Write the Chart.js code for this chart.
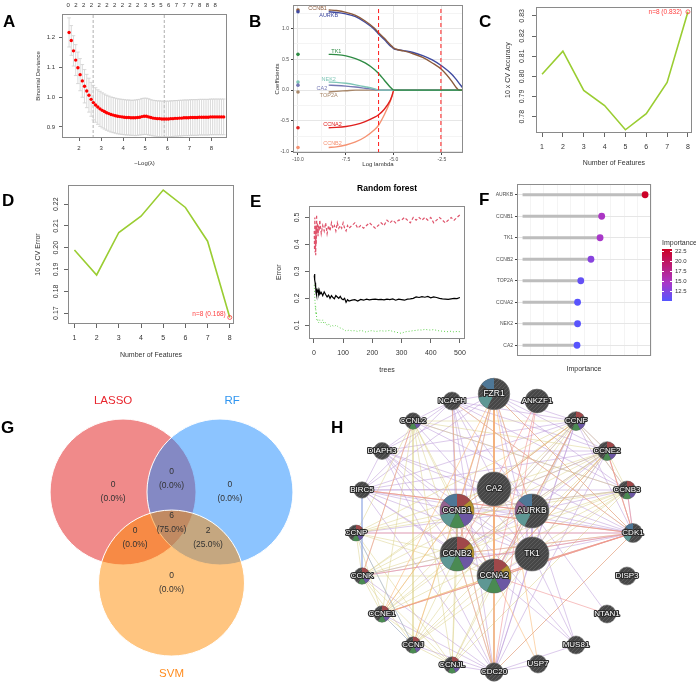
<!DOCTYPE html>
<html>
<head>
<meta charset="utf-8">
<title>Feature selection figure</title>
<script src="https://cdn.jsdelivr.net/npm/chart.js@4.4.1/dist/chart.umd.min.js"></script>
<style>
  body { margin: 0; background: #fff; }
  #fig { position: relative; width: 696px; height: 683px; overflow: hidden;
         font-family: "Liberation Sans", Arial, sans-serif; }
  #fig canvas { position: absolute; }
  .tag { position: absolute; font: bold 17px/17px "Liberation Sans", Arial, sans-serif; color: #000; }
  .leg { position: absolute; font-size: 6px; line-height: 6px; color: #333; white-space: nowrap; }
</style>
</head>
<body>
<div id="fig">
  <canvas id="cA" width="232" height="175" style="left:0;top:0"></canvas>
  <canvas id="cB" width="232" height="175" style="left:232px;top:0"></canvas>
  <canvas id="cC" width="232" height="175" style="left:464px;top:0"></canvas>
  <canvas id="cD" width="238" height="190" style="left:0;top:175px"></canvas>
  <canvas id="cE" width="234" height="210" style="left:238px;top:175px"></canvas>
  <canvas id="cF" width="224" height="210" style="left:472px;top:175px"></canvas>
  <canvas id="cG" width="345" height="298" style="left:0;top:385px"></canvas>
  <canvas id="cH" width="351" height="313" style="left:345px;top:370px"></canvas>
  <div id="fLegend"></div>
  <div class="tag" style="left:3px;top:13px">A</div>
  <div class="tag" style="left:249px;top:13px">B</div>
  <div class="tag" style="left:479px;top:13px">C</div>
  <div class="tag" style="left:2px;top:192px">D</div>
  <div class="tag" style="left:250px;top:193px">E</div>
  <div class="tag" style="left:479px;top:191px">F</div>
  <div class="tag" style="left:1px;top:419px">G</div>
  <div class="tag" style="left:331px;top:419px">H</div>
</div>

<script>
/* DATA - A: LASSO cross validation */
const aLogLam = [
  1.55,1.65,1.75,1.85,1.95,2.05,2.15,2.25,2.35,2.45,
  2.55,2.65,2.75,2.85,2.95,3.05,3.15,3.25,3.35,3.45,
  3.55,3.65,3.75,3.85,3.95,4.05,4.15,4.25,4.35,4.45,
  4.55,4.65,4.75,4.85,4.95,5.05,5.15,5.25,5.35,5.45,
  5.55,5.65,5.75,5.85,5.95,6.05,6.15,6.25,6.35,6.45,
  6.55,6.65,6.75,6.85,6.95,7.05,7.15,7.25,7.35,7.45,
  7.55,7.65,7.75,7.85,7.95,8.05,8.15,8.25,8.35,8.45,
  8.55];
const aDev = [
  1.218,1.191,1.156,1.125,1.099,1.076,1.055,1.037,1.021,1.007,
  0.993,0.982,0.974,0.967,0.961,0.956,0.952,0.948,0.945,0.942,
  0.940,0.938,0.936,0.935,0.934,0.933,0.932,0.932,0.931,0.931,
  0.931,0.932,0.933,0.935,0.936,0.936,0.934,0.932,0.930,0.929,
  0.928,0.928,0.927,0.927,0.927,0.927,0.928,0.928,0.929,0.929,
  0.930,0.930,0.931,0.931,0.931,0.932,0.932,0.932,0.932,0.933,
  0.933,0.933,0.933,0.933,0.934,0.934,0.934,0.934,0.934,0.934,
  0.934];
const aSE = [
  0.049,0.050,0.051,0.052,0.053,0.054,0.055,0.056,0.056,0.057,
  0.057,0.058,0.058,0.058,0.059,0.059,0.059,0.059,0.059,0.059,
  0.059,0.059,0.059,0.059,0.059,0.059,0.059,0.059,0.059,0.059,
  0.060,0.060,0.060,0.061,0.061,0.061,0.061,0.060,0.060,0.060,
  0.060,0.060,0.060,0.060,0.060,0.060,0.060,0.060,0.060,0.060,
  0.060,0.060,0.060,0.060,0.060,0.060,0.060,0.060,0.060,0.060,
  0.060,0.060,0.060,0.060,0.060,0.060,0.060,0.060,0.060,0.060,
  0.060];
const aTopPos = [1.51,1.86,2.21,2.56,2.91,3.26,3.61,3.96,4.31,4.66,
                 5.01,5.36,5.71,6.06,6.41,6.76,7.11,7.46,7.81,8.16];
const aTopCount = ['0','2','2','2','2','2','2','2','2','2',
                   '3','5','5','6','7','7','7','8','8','8'];
const aLam1se = 2.64, aLamMin = 5.86;

/* DATA - B: coefficient paths */
const bGenes = ['CCNB1','AURKB','TK1','NEK2','CA2','TOP2A','CCNA2','CCNB2'];
const bLam = [-8.4,-8,-7.5,-7,-6.5,-6,-5.8,-5.5,-5.2,-5.1,-5.0,-4.8,-4.5,-4,-3.5,-3,-2.5,-2,-1.8,-1.6,-1.4];
const bCCNB1 = [1.30,1.29,1.26,1.21,1.12,1.00,0.93,0.84,0.74,0.71,0.68,0.655,0.635,0.59,0.53,0.44,0.33,0.15,0.06,0,0];
const bAURKB = [1.27,1.26,1.235,1.19,1.10,0.98,0.91,0.82,0.72,0.695,0.67,0.655,0.64,0.61,0.56,0.49,0.39,0.26,0.19,0.11,0.03];
const bTK1   = [0.58,0.575,0.555,0.51,0.44,0.33,0.27,0.16,0.05,0.02,0,0,0,0,0,0,0,0,0,0,0];
const bNEK2  = [0.13,0.125,0.11,0.085,0.055,0.02,0,0,0,0,0,0,0,0,0,0,0,0,0,0,0];
const bCA2   = [0.08,0.075,0.065,0.05,0.03,0.01,0,0,0,0,0,0,0,0,0,0,0,0,0,0,0];
const bTOP2A = [-0.03,-0.02,-0.01,0,0,0,0,0,0,0,0,0,0,0,0,0,0,0,0,0,0];
const bCCNA2 = [-0.61,-0.605,-0.59,-0.56,-0.51,-0.44,-0.40,-0.31,-0.17,-0.09,0,0,0,0,0,0,0,0,0,0,0];
const bCCNB2 = [-0.93,-0.92,-0.89,-0.84,-0.76,-0.64,-0.57,-0.40,-0.19,-0.10,0,0,0,0,0,0,0,0,0,0,0];
const bLamMin = -5.8, bLam1se = -2.55, bDotLam = -10;

/* DATA - C / D: SVM-RFE */
const cFeat = [1,2,3,4,5,6,7,8];
const cAcc = [0.801,0.8125,0.793,0.7855,0.7735,0.7815,0.797,0.832];
const dErr = [0.199,0.1875,0.207,0.2145,0.2265,0.2185,0.203,0.168];

/* DATA - E: random forest error */
const eTrees = [
  1,2,3,4,5,6,7,8,9,10,
  12,14,16,18,20,25,30,35,40,45,
  50,55,60,65,70,75,80,85,90,95,
  100,105,110,115,120,130,140,150,160,170,
  180,190,200,210,220,230,240,250,260,270,
  280,290,300,310,320,330,340,350,360,370,
  380,390,400,410,420,430,440,450,460,470,
  480,490,500];
const eOOB = [
  0.285,0.290,0.268,0.258,0.240,0.252,0.222,0.236,0.212,0.230,
  0.225,0.232,0.218,0.228,0.215,0.222,0.210,0.224,0.214,0.205,
  0.212,0.200,0.210,0.203,0.198,0.210,0.205,0.200,0.207,0.198,
  0.195,0.200,0.185,0.195,0.190,0.193,0.195,0.190,0.196,0.193,
  0.197,0.194,0.196,0.197,0.195,0.196,0.194,0.197,0.195,0.198,
  0.193,0.197,0.195,0.193,0.197,0.198,0.200,0.205,0.203,0.206,
  0.204,0.207,0.202,0.205,0.203,0.200,0.198,0.197,0.196,0.198,
  0.200,0.199,0.203];
const eErrA = [
  0.450,0.380,0.500,0.370,0.420,0.360,0.470,0.400,0.510,0.440,
  0.480,0.430,0.470,0.450,0.490,0.440,0.470,0.450,0.480,0.440,
  0.470,0.450,0.480,0.460,0.470,0.450,0.480,0.460,0.470,0.460,
  0.480,0.460,0.450,0.470,0.460,0.470,0.480,0.460,0.470,0.460,
  0.470,0.480,0.470,0.460,0.470,0.480,0.470,0.490,0.480,0.490,
  0.480,0.490,0.490,0.500,0.490,0.480,0.500,0.490,0.500,0.490,
  0.500,0.490,0.500,0.480,0.490,0.500,0.490,0.480,0.490,0.500,
  0.490,0.500,0.510];
const eErrB = [
  0.250,0.220,0.200,0.180,0.160,0.170,0.140,0.150,0.130,0.120,
  0.115,0.120,0.110,0.115,0.120,0.110,0.120,0.105,0.110,0.100,
  0.105,0.095,0.100,0.098,0.095,0.100,0.097,0.092,0.090,0.088,
  0.085,0.083,0.078,0.080,0.082,0.079,0.080,0.077,0.081,0.078,
  0.074,0.079,0.080,0.077,0.078,0.080,0.078,0.079,0.081,0.077,
  0.075,0.072,0.070,0.075,0.077,0.078,0.080,0.081,0.083,0.082,
  0.085,0.083,0.082,0.084,0.081,0.079,0.078,0.077,0.076,0.078,
  0.075,0.077,0.076];

/* DATA - F: importance */
const fGenes = ['AURKB','CCNB1','TK1','CCNB2','TOP2A','CCNA2','NEK2','CA2'];
const fImp = [22.8,14.7,14.4,12.7,10.8,10.2,10.2,10.1];
const fLegendTicks = [22.5,20.0,17.5,15.0,12.5];
const fLegMin = 10, fLegMax = 23;

/* DATA - G: Venn */
const gSets = ['LASSO','RF','SVM'];
const gCx = [-0.664, 0.664, 0];
const gCy = [0, 0, -1.247];
const gCounts = [0, 0, 0, 0, 0, 2, 6];  // L only, RF only, SVM only, L&RF, L&SVM, RF&SVM, all
const gCountX = [-0.80, 0.80, 0, 0, -0.50, 0.50, 0];
const gCountY = [0, 0, -1.247, 0.178, -0.623, -0.623, -0.425];
const gNameX = [-0.80, 0.83, 0];
const gNameY = [1.247, 1.247, -2.493];

/* DATA - H: GeneMANIA network */
const hNodes = ['NCAPH','FZR1','ANKZF1','CCNL2','CCNF','DIAPH3','CCNE2','BIRC5','CA2','CCNB3',
                'CCNB1','AURKB','CCNP','CDK1','CCNB2','TK1','CCNK','CCNA2','DISP3','CCNE1',
                'NTAN1','CCNJ','MUS81','CCNJL','USP7','CDC20'];
const hX = [107,149,192,68,231,37,262,17,149,282,112,187,11,288,112,187,17,149,282,37,262,68,231,107,193,149];
const hY = [31,24,31,51,51,81,81,120,119,120,141,141,163,163,184,184,206,206,206,244,244,275,275,295,294,302];
const hScore = [0.53,0.93,0.70,0.48,0.55,0.50,0.55,0.48,1,0.53,1,1,0.47,0.56,1,1,0.48,1,0.53,0.48,
                0.53,0.48,0.53,0.48,0.53,0.54];
const hFuncOf = {   // 0 red,1 gold,2 purple,3 green,4 teal,5 mauve,6 blue
  CCNB1:[0,1,2,3,4,5,6], AURKB:[4,5,6], CCNB2:[0,1,2,3,4], CCNA2:[0,1,2,3,4],
  FZR1:[4,6], CDK1:[4,6], CCNF:[0,2,3], CCNE2:[0,2,3], CCNB3:[0,2,3], CCNP:[0,2,3],
  CCNK:[0,2,3], CCNE1:[0,2,3], CCNJ:[0,2,3], CCNJL:[0,2,3], CCNL2:[2,3]
};
const hCoexp = {
  BIRC5:['CCNB1','CCNB2','CCNA2','AURKB','TK1','CDK1','CDC20','NCAPH','FZR1','CCNF','CCNE2','CCNB3','DIAPH3','CA2'],
  CDK1:['CCNB1','CCNB2','CCNA2','AURKB','TK1','CDC20','NCAPH','FZR1','CCNF','CCNE2','CCNB3','DIAPH3','CCNE1','CCNP','CCNK','CCNL2'],
  CDC20:['CCNB1','CCNB2','CCNA2','AURKB','TK1','NCAPH','FZR1','CCNF','CCNE2','DIAPH3','CCNJ','CCNJL','MUS81','USP7','CCNE1','CCNK'],
  NCAPH:['CCNB1','CCNB2','CCNA2','AURKB','TK1','FZR1','CCNF','CCNE2','DIAPH3','CCNB3','CCNL2'],
  FZR1:['CCNB1','CCNB2','CCNA2','AURKB','TK1','CCNF','DIAPH3','CCNE2','CCNB3'],
  CCNB1:['AURKB','CCNB2','CCNA2','TK1','CCNF','DIAPH3','CCNE2','CCNB3','MUS81'],
  AURKB:['CCNB2','CCNA2','TK1','CCNF','DIAPH3','CCNE2','CCNB3','NTAN1','MUS81','CCNP'],
  CCNB2:['CCNA2','TK1','CCNF','DIAPH3','CCNE2','CCNK'],
  CCNA2:['TK1','CCNF','DIAPH3','CCNE2','MUS81'],
  TK1:['CCNF','DIAPH3','CCNE2','MUS81','CCNL2'],
  DIAPH3:['CCNE2','CCNF'], CCNF:['CCNE2','CCNB3'], CCNL2:['CCNB3']
};
const hDomainGroup = ['CCNL2','CCNF','CCNE2','CCNB3','CCNP','CCNK','CCNE1','CCNJ','CCNJL','CCNB1','CCNB2','CCNA2'];
const hPathway = {
  FZR1:['CCNB1','CCNA2','CCNB2','CDC20','CDK1','AURKB','USP7','CCNE1','CCNJ'],
  CDC20:['CCNB1','CCNA2','CCNB2','CDK1'],
  CDK1:['CCNB1','CCNA2','CCNB2','CCNE1','CCNE2'],
  CCNA2:['USP7','CCNE1','CCNE2'], CCNB1:['CCNF','CCNE1'], BIRC5:['AURKB'], NCAPH:['CDK1','CCNB1']
};
const hPhysical = {
  ANKZF1:['CCNA2','CDC20','CCNB2'], CCNA2:['NTAN1','CDK1','CCNF','CCNB1'],
  CDK1:['CCNB1','CCNE1','CCNB3','CCNK','CCNP'], AURKB:['BIRC5'], CCNE2:['CDK1'], CCNL2:['CCNK']
};
const hOther = { CCNE1:['CCNJ'], CCNP:['CCNJ'], BIRC5:['CCNK'] };


/* COMMON SETTINGS */
const FF = "'Liberation Sans', Arial, sans-serif";
const fnt = (size, weight) => (weight || '') + ' ' + size + 'px ' + FF;
Chart.defaults.font.family = FF;
Chart.defaults.color = '#333';
Chart.defaults.animation = false;
Chart.defaults.responsive = false;
Chart.defaults.events = [];
Chart.defaults.layout.autoPadding = false;
Chart.defaults.plugins.legend.display = false;
Chart.defaults.plugins.tooltip.enabled = false;

const fit = n => s => { if (s.isHorizontal()) s.height = n; else s.width = n; };
const xy = (xs, ys) => xs.map((x, i) => ({x, y: ys[i]}));

// box around the plotting region
const framePlugin = {
  id: 'frame',
  defaults: {color: null},
  afterDraw(chart, args, opts) {
    if (!opts.color) return;
    const {ctx, chartArea: a} = chart;
    ctx.save();
    ctx.strokeStyle = opts.color;
    ctx.lineWidth = 1;
    ctx.strokeRect(Math.round(a.left) + 0.5, Math.round(a.top) + 0.5,
                   Math.round(a.right - a.left) - 1, Math.round(a.bottom - a.top) - 1);
    ctx.restore();
  }
};
Chart.register(framePlugin);

// text placed in data units
function textLayer(items) {
  return {
    id: 'textLayer',
    afterDraw(chart) {
      const {ctx, scales} = chart;
      ctx.save();
      ctx.textBaseline = 'middle';
      items.forEach(t => {
        ctx.font = t.font;
        ctx.textAlign = t.align || 'center';
        const px = scales.x.getPixelForValue(t.x) + (t.dx || 0);
        const py = scales.y.getPixelForValue(t.y) + (t.dy || 0);
        if (t.stroke) {
          ctx.lineJoin = 'round';
          ctx.strokeStyle = t.stroke;
          ctx.lineWidth = t.strokeWidth || 2;
          ctx.strokeText(t.text, px, py);
        }
        ctx.fillStyle = t.color;
        ctx.fillText(t.text, px, py);
      });
      ctx.restore();
    }
  };
}

// R style vertical y tick labels
function rotatedYTicks(xPos, size) {
  return {
    id: 'rotY',
    afterDraw(chart) {
      const s = chart.scales.y, ctx = chart.ctx;
      ctx.save();
      ctx.font = fnt(size);
      ctx.fillStyle = '#333';
      ctx.textAlign = 'center';
      ctx.textBaseline = 'middle';
      s.ticks.forEach(t => {
        ctx.save();
        ctx.translate(xPos, s.getPixelForValue(t.value));
        ctx.rotate(-Math.PI / 2);
        ctx.fillText(t.label, 0, 0);
        ctx.restore();
      });
      ctx.restore();
    }
  };
}


/* PANEL A */
function drawA() {
  const stems = [], caps = [];
  aLogLam.forEach((x, i) => {
    stems.push({x, y: aDev[i] - aSE[i]}, {x, y: aDev[i] + aSE[i]}, {x: null, y: null});
    caps.push({x, y: aDev[i] - aSE[i]}, {x, y: aDev[i] + aSE[i]});
  });
  const yMin = 0.863, yMax = 1.28;
  const vline = x => ({data: [{x, y: yMin}, {x, y: yMax}], showLine: true, pointRadius: 0,
                       borderColor: '#9a9a9a', borderWidth: 0.8, borderDash: [3, 2]});
  new Chart('cA', {
    type: 'scatter',
    data: {datasets: [
      {data: xy(aLogLam, aDev), pointRadius: 1.7, pointBackgroundColor: '#ff0000', pointBorderWidth: 0},
      {data: stems, showLine: true, pointRadius: 0, borderColor: '#cfcfcf', borderWidth: 0.8},
      {data: caps, pointStyle: 'line', pointRadius: 1.8, pointBorderColor: '#cfcfcf', pointBorderWidth: 0.8},
      vline(aLam1se), vline(aLamMin)
    ]},
    options: {
      layout: {padding: {right: 5}},
      plugins: {frame: {color: '#8a8a8a'}},
      scales: {
        x: {type: 'linear', min: 1.23, max: 8.7,
            ticks: {stepSize: 1, includeBounds: false, font: {size: 6}, padding: 4, maxRotation: 0},
            grid: {drawOnChartArea: false, tickLength: 3, color: '#666'}, border: {display: false},
            title: {display: true, text: '−Log(λ)', font: {size: 6}, padding: {top: 0, bottom: 8.4}},
            afterFit: fit(37)},
        x2: {type: 'linear', position: 'top', min: 1.23, max: 8.7,
             afterBuildTicks: s => { s.ticks = aTopPos.map(v => ({value: v})); },
             ticks: {font: {size: 6}, padding: 5.5, autoSkip: false, maxRotation: 0,
                     callback: (v, i) => aTopCount[i]},
             grid: {display: false, drawTicks: false}, border: {display: false},
             afterFit: fit(14)},
        y: {min: yMin, max: yMax,
            ticks: {stepSize: 0.1, includeBounds: false, font: {size: 6}, padding: 4,
                    callback: v => v.toFixed(1)},
            grid: {drawOnChartArea: false, tickLength: 3, color: '#666'}, border: {display: false},
            title: {display: true, text: 'Binomial Deviance', font: {size: 6}, padding: {top: 34.4}},
            afterFit: fit(62)}
      }
    }
  });
}


/* PANEL B */
function drawB() {
  const coefs = [bCCNB1, bAURKB, bTK1, bNEK2, bCA2, bTOP2A, bCCNA2, bCCNB2];
  const colors = ['#8B5A3C', '#3F4AA0', '#2E8B44', '#7FC6B6', '#7478B4', '#A8876A', '#E0201E', '#F59272'];
  const labX = [-8.98, -8.4, -8.0, -8.4, -8.75, -8.4, -8.2, -8.2];
  const labY = [1.32, 1.21, 0.63, 0.17, 0.02, -0.08, -0.55, -0.86];
  const drawOrder = [2, 0, 1, 3, 4, 5, 6, 7];
  const yMin = -1.02, yMax = 1.38;
  const paths = drawOrder.map(i => ({
    data: xy(bLam, coefs[i]), showLine: true, pointRadius: 0, borderColor: colors[i],
    borderWidth: 1.4, cubicInterpolationMode: 'monotone'
  }));
  const dots = {data: coefs.map(c => ({x: bDotLam, y: c[0]})), pointRadius: 1.8,
                pointBackgroundColor: colors, pointBorderWidth: 0};
  const vline = x => ({data: [{x, y: yMin}, {x, y: yMax}], showLine: true, pointRadius: 0,
                       borderColor: '#ff1a1a', borderWidth: 1, borderDash: [4, 3]});
  const major = (v, step) => Math.abs(v / step - Math.round(v / step)) < 1e-6;
  const labels = bGenes.map((g, i) => ({x: labX[i], y: labY[i], text: g, color: colors[i], font: fnt(5.5)}));
  new Chart('cB', {
    type: 'scatter',
    data: {datasets: [dots, vline(bLamMin), vline(bLam1se), ...paths]},
    options: {
      layout: {padding: {top: 2, right: 1}},
      plugins: {frame: {color: '#8c8c8c'}},
      scales: {
        x: {type: 'linear', min: -10.26, max: -1.4,
            ticks: {stepSize: 1.25, includeBounds: false, autoSkip: false, maxRotation: 0,
                    font: {size: 5}, padding: 2, color: '#4d4d4d',
                    callback: v => major(v, 2.5) ? v.toFixed(1) : ''},
            grid: {color: c => major(c.tick.value, 2.5) ? '#e6e6e6' : '#f4f4f4',
                   tickColor: c => major(c.tick.value, 2.5) ? '#444' : 'rgba(0,0,0,0)', tickLength: 2},
            border: {display: false},
            title: {display: true, text: 'Log lambda', font: {size: 6}, padding: {top: 0, bottom: 7.4}},
            afterFit: fit(22)},
        y: {min: yMin, max: yMax,
            ticks: {stepSize: 0.25, includeBounds: false, autoSkip: false, font: {size: 5}, padding: 2,
                    color: '#4d4d4d', callback: v => major(v, 0.5) ? v.toFixed(1) : ''},
            grid: {color: c => major(c.tick.value, 0.5) ? '#e6e6e6' : '#f4f4f4',
                   tickColor: c => major(c.tick.value, 0.5) ? '#444' : 'rgba(0,0,0,0)', tickLength: 2},
            border: {display: false},
            title: {display: true, text: 'Coefficients', font: {size: 6}, padding: {top: 41.4}},
            afterFit: fit(61)}
      }
    },
    plugins: [textLayer(labels)]
  });
}


/* PANELS C and D */
function drawRfe(id, values, best, yMin, yMax, box, labelX, yTitle, annotDx, annotDy) {
  const x0 = 0.71, x1 = 8.19;
  const tag = 'n=' + cFeat[best] + ' (' + values[best].toFixed(3) + ')';
  new Chart(id, {
    type: 'scatter',
    data: {datasets: [
      {data: [{x: cFeat[best], y: values[best]}], pointRadius: 2, pointBorderColor: '#ff4040',
       pointBackgroundColor: 'rgba(0,0,0,0)', pointBorderWidth: 0.8},
      {data: xy(cFeat, values), showLine: true, pointRadius: 0, borderColor: '#9ACD32', borderWidth: 1.6}
    ]},
    options: {
      layout: {padding: {top: box.top, right: box.right}},
      plugins: {frame: {color: '#8a8a8a'}},
      scales: {
        x: {type: 'linear', min: x0, max: x1,
            ticks: {stepSize: 1, includeBounds: false, font: {size: 7}, padding: 6, maxRotation: 0},
            grid: {drawOnChartArea: false, tickLength: 4, color: '#666'}, border: {display: false},
            title: {display: true, text: 'Number of Features', font: {size: 7},
                    padding: {top: 0, bottom: box.titleBottom}},
            afterFit: fit(box.xh)},
        y: {min: yMin, max: yMax,
            ticks: {stepSize: 0.01, includeBounds: false, color: 'rgba(0,0,0,0)', font: {size: 7},
                    callback: v => v.toFixed(2)},
            grid: {drawOnChartArea: false, tickLength: 4, color: '#666'}, border: {display: false},
            title: {display: true, text: yTitle, font: {size: 7}, padding: {top: box.yTitle}},
            afterFit: fit(box.yw)}
      }
    },
    plugins: [rotatedYTicks(labelX, 7),
              textLayer([{x: cFeat[best], y: values[best], text: tag, color: '#ff4040', font: fnt(6.5),
                          align: 'right', dx: annotDx, dy: annotDy}])]
  });
}


/* PANEL E */
function drawE() {
  new Chart('cE', {
    type: 'scatter',
    data: {datasets: [
      {data: xy(eTrees, eOOB), showLine: true, pointRadius: 0, borderColor: '#000', borderWidth: 1.2},
      {data: xy(eTrees, eErrA), showLine: true, pointRadius: 0, borderColor: '#DF536B', borderWidth: 1.2,
       borderDash: [3, 2]},
      {data: xy(eTrees, eErrB), showLine: true, pointRadius: 0, borderColor: '#61D04F', borderWidth: 1,
       borderDash: [1, 2]}
    ]},
    options: {
      layout: {padding: {right: 3}},
      plugins: {
        frame: {color: '#8a8a8a'},
        title: {display: true, text: 'Random forest', fullSize: false, color: '#000',
                font: {size: 8.5, weight: 'bold'}, padding: {top: 9, bottom: 11.4}}
      },
      scales: {
        x: {type: 'linear', min: -17, max: 518,
            ticks: {stepSize: 100, includeBounds: false, font: {size: 7}, padding: 6, maxRotation: 0},
            grid: {drawOnChartArea: false, tickLength: 4, color: '#666'}, border: {display: false},
            title: {display: true, text: 'trees', font: {size: 7}, padding: {top: 0, bottom: 10.8}},
            afterFit: fit(46)},
        y: {min: 0.049, max: 0.544,
            ticks: {stepSize: 0.1, includeBounds: false, color: 'rgba(0,0,0,0)', font: {size: 7},
                    callback: v => v.toFixed(1)},
            grid: {drawOnChartArea: false, tickLength: 4, color: '#666'}, border: {display: false},
            title: {display: true, text: 'Error', font: {size: 7}, padding: {top: 36.8}},
            afterFit: fit(71)}
      }
    },
    plugins: [rotatedYTicks(59, 7)]
  });
}


/* PANEL F */
const fStops = [[10, [85, 85, 255]], [14.5, [170, 55, 200]], [23, [205, 0, 35]]];
function impColor(v) {
  for (let k = 1; k < fStops.length; k++) {
    const [v0, c0] = fStops[k - 1], [v1, c1] = fStops[k];
    if (v <= v1 || k === fStops.length - 1) {
      const t = Math.max(0, Math.min(1, (v - v0) / (v1 - v0)));
      return 'rgb(' + c0.map((c, j) => Math.round(c + (c1[j] - c) * t)).join(',') + ')';
    }
  }
}
function drawF() {
  const major = v => Math.abs(v / 5 - Math.round(v / 5)) < 1e-6;
  new Chart('cF', {
    type: 'bar',
    data: {
      labels: fGenes,
      datasets: [
        {type: 'line', indexAxis: 'y', data: fImp, showLine: false, pointRadius: 3.4,
         pointBackgroundColor: fImp.map(impColor), pointBorderWidth: 0, order: 0},
        {data: fImp, backgroundColor: '#bdbdbd', barThickness: 2.4, order: 1}
      ]
    },
    options: {
      indexAxis: 'y',
      layout: {padding: {top: 9, right: 45}},
      plugins: {frame: {color: '#8c8c8c'}},
      scales: {
        x: {type: 'linear', min: -1.1, max: 23.9,
            ticks: {stepSize: 2.5, includeBounds: false, autoSkip: false, maxRotation: 0,
                    font: {size: 5.5}, padding: 2, color: '#4d4d4d',
                    callback: v => major(v) ? String(v) : ''},
            grid: {color: c => major(c.tick.value) ? '#e6e6e6' : '#f4f4f4',
                   tickColor: c => major(c.tick.value) ? '#444' : 'rgba(0,0,0,0)', tickLength: 2},
            border: {display: false},
            title: {display: true, text: 'Importance', font: {size: 7}, padding: {top: 0, bottom: 11.8}},
            afterFit: fit(29)},
        y: {ticks: {font: {size: 5}, padding: 2, color: '#4d4d4d'},
            grid: {offset: false, color: '#e6e6e6', tickColor: '#444', tickLength: 2},
            border: {display: false},
            afterFit: fit(45)}
      }
    }
  });

  // colour bar legend
  const leg = document.getElementById('fLegend');
  const barTop = 249, barH = 52;
  const pct = v => ((v - fLegMin) / (fLegMax - fLegMin) * 100).toFixed(1) + '%';
  const grad = fStops.map(([v, c]) => 'rgb(' + c.join(',') + ') ' + pct(v)).join(',');
  let html = '<div class="leg" style="left:662px;top:239px;font-size:7px;line-height:7px">Importance</div>' +
             '<div style="position:absolute;left:662px;top:' + barTop + 'px;width:10px;height:' + barH +
             'px;background:linear-gradient(to top,' + grad + ')"></div>';
  fLegendTicks.forEach(v => {
    const y = barTop + (fLegMax - v) / (fLegMax - fLegMin) * barH;
    html += '<div style="position:absolute;left:662px;top:' + (y - 0.5) + 'px;width:2px;height:1px;background:#fff"></div>' +
            '<div style="position:absolute;left:670px;top:' + (y - 0.5) + 'px;width:2px;height:1px;background:#fff"></div>' +
            '<div class="leg" style="left:675px;top:' + (y - 3) + 'px">' + v.toFixed(1) + '</div>';
  });
  leg.innerHTML = html;
}


/* PANEL G */
function drawG() {
  const total = gCounts.reduce((a, b) => a + b, 0);
  const unitPx = c => {
    const s = c.chart.scales.x;
    if (!s || !s.width) return 0;
    return s.getPixelForValue(1) - s.getPixelForValue(0);
  };
  const nameColors = ['#E8262E', '#2F95F0', '#FF8C1E'];
  const items = [];
  gSets.forEach((n, i) => items.push({x: gNameX[i], y: gNameY[i], text: n, color: nameColors[i], font: fnt(11.5)}));
  gCounts.forEach((n, i) => {
    const pctTxt = '(' + (n / total * 100).toFixed(1) + '%)';
    items.push({x: gCountX[i], y: gCountY[i], text: String(n), color: '#333', font: fnt(8.5), dy: -7});
    items.push({x: gCountX[i], y: gCountY[i], text: pctTxt, color: '#333', font: fnt(8.5), dy: 7});
  });
  new Chart('cG', {
    type: 'scatter',
    data: {datasets: [{
      data: xy(gCx, gCy), pointRadius: unitPx,
      pointBackgroundColor: ['rgba(225,21,21,0.5)', 'rgba(25,137,255,0.5)', 'rgba(255,140,1,0.5)'],
      pointBorderColor: '#fff', pointBorderWidth: 1, clip: false
    }]},
    options: {
      scales: {
        x: {type: 'linear', display: false, min: -2.35, max: 2.377},
        y: {type: 'linear', display: false, min: -2.616, max: 1.466}
      }
    },
    plugins: [textLayer(items)]
  });
}


/* PANEL H */
function hatchFill() {
  const p = document.createElement('canvas');
  p.width = 4; p.height = 4;
  const c = p.getContext('2d');
  c.fillStyle = '#474747';
  c.fillRect(0, 0, 4, 4);
  c.strokeStyle = '#5c5c5c';
  c.lineWidth = 1;
  c.beginPath();
  c.moveTo(0, 4); c.lineTo(4, 0);
  c.stroke();
  return c.createPattern(p, 'repeat');
}

function drawH() {
  const maxR = 17;
  const funcColors = ['#A0484A', '#B3922F', '#6C57A3', '#4A8A52', '#5E9794', '#94628F', '#4E7796'];
  const idx = name => hNodes.indexOf(name);
  const edgePts = pairs => {
    const pts = [];
    pairs.forEach(([a, b]) => {
      const i = idx(a), j = idx(b);
      pts.push({x: hX[i], y: hY[i]}, {x: hX[j], y: hY[j]}, {x: null, y: null});
    });
    return pts;
  };
  const fromMap = m => Object.keys(m).flatMap(a => m[a].map(b => [a, b]));
  const domainPairs = [];
  hDomainGroup.forEach((a, i) => hDomainGroup.slice(i + 1).forEach(b => domainPairs.push([a, b])));
  const edgeSet = (pairs, color, order) => ({
    data: edgePts(pairs), showLine: true, pointRadius: 0, borderColor: color, borderWidth: 1,
    spanGaps: false, order
  });

  const pies = {
    id: 'hPies',
    afterDatasetsDraw(chart) {
      const {ctx, scales: {x, y}} = chart;
      const slice = 2 * Math.PI / funcColors.length;
      ctx.save();
      hNodes.forEach((name, i) => {
        const funcs = hFuncOf[name];
        if (!funcs) return;
        const cx = x.getPixelForValue(hX[i]), cy = y.getPixelForValue(hY[i]);
        const r = hScore[i] * maxR;
        funcs.forEach(f => {
          const a0 = -Math.PI / 2 + f * slice;
          ctx.beginPath();
          ctx.moveTo(cx, cy);
          ctx.arc(cx, cy, r, a0, a0 + slice);
          ctx.closePath();
          ctx.fillStyle = funcColors[f];
          ctx.fill();
        });
      });
      ctx.restore();
    }
  };
  const labels = hNodes.map((n, i) => ({
    x: hX[i], y: hY[i], text: n, color: '#fff', stroke: '#2a2a2a', strokeWidth: 2.2,
    font: fnt(hScore[i] > 0.9 ? 8.5 : 8)
  }));

  new Chart('cH', {
    type: 'scatter',
    data: {datasets: [
      {data: xy(hX, hY), pointRadius: hScore.map(s => s * maxR), pointBackgroundColor: hatchFill(),
       pointBorderColor: '#707070', pointBorderWidth: 0.6, order: 0, clip: false},
      edgeSet(fromMap(hCoexp), 'rgba(185,150,215,0.5)', 5),
      edgeSet(domainPairs, 'rgba(215,205,125,0.45)', 4),
      edgeSet(fromMap(hPathway), 'rgba(250,180,110,0.55)', 3),
      edgeSet(fromMap(hPhysical), 'rgba(240,140,140,0.55)', 2),
      edgeSet(fromMap(hOther), 'rgba(140,165,230,0.5)', 1)
    ]},
    options: {
      scales: {
        x: {type: 'linear', display: false, min: 0, max: 351},
        y: {type: 'linear', display: false, min: 0, max: 313, reverse: true}
      }
    },
    plugins: [pies, textLayer(labels)]
  });
}


document.addEventListener('DOMContentLoaded', () => {
  drawA();
  drawB();
  drawRfe('cC', cAcc, cAcc.indexOf(Math.max(...cAcc)), 0.7719, 0.8343,
          {top: 2, right: 4, xh: 42, yw: 72, titleBottom: 7.8, yTitle: 39.8}, 58, '10 x CV Accuracy', -6, 0);
  drawRfe('cD', dErr, dErr.indexOf(Math.min(...dErr)), 0.165, 0.2288,
          {top: 10, right: 4, xh: 41, yw: 68, titleBottom: 5.8, yTitle: 33.8}, 56, '10 x CV Error', -4, -3);
  drawE();
  drawF();
  drawG();
  drawH();
});
</script>
</body>
</html>
